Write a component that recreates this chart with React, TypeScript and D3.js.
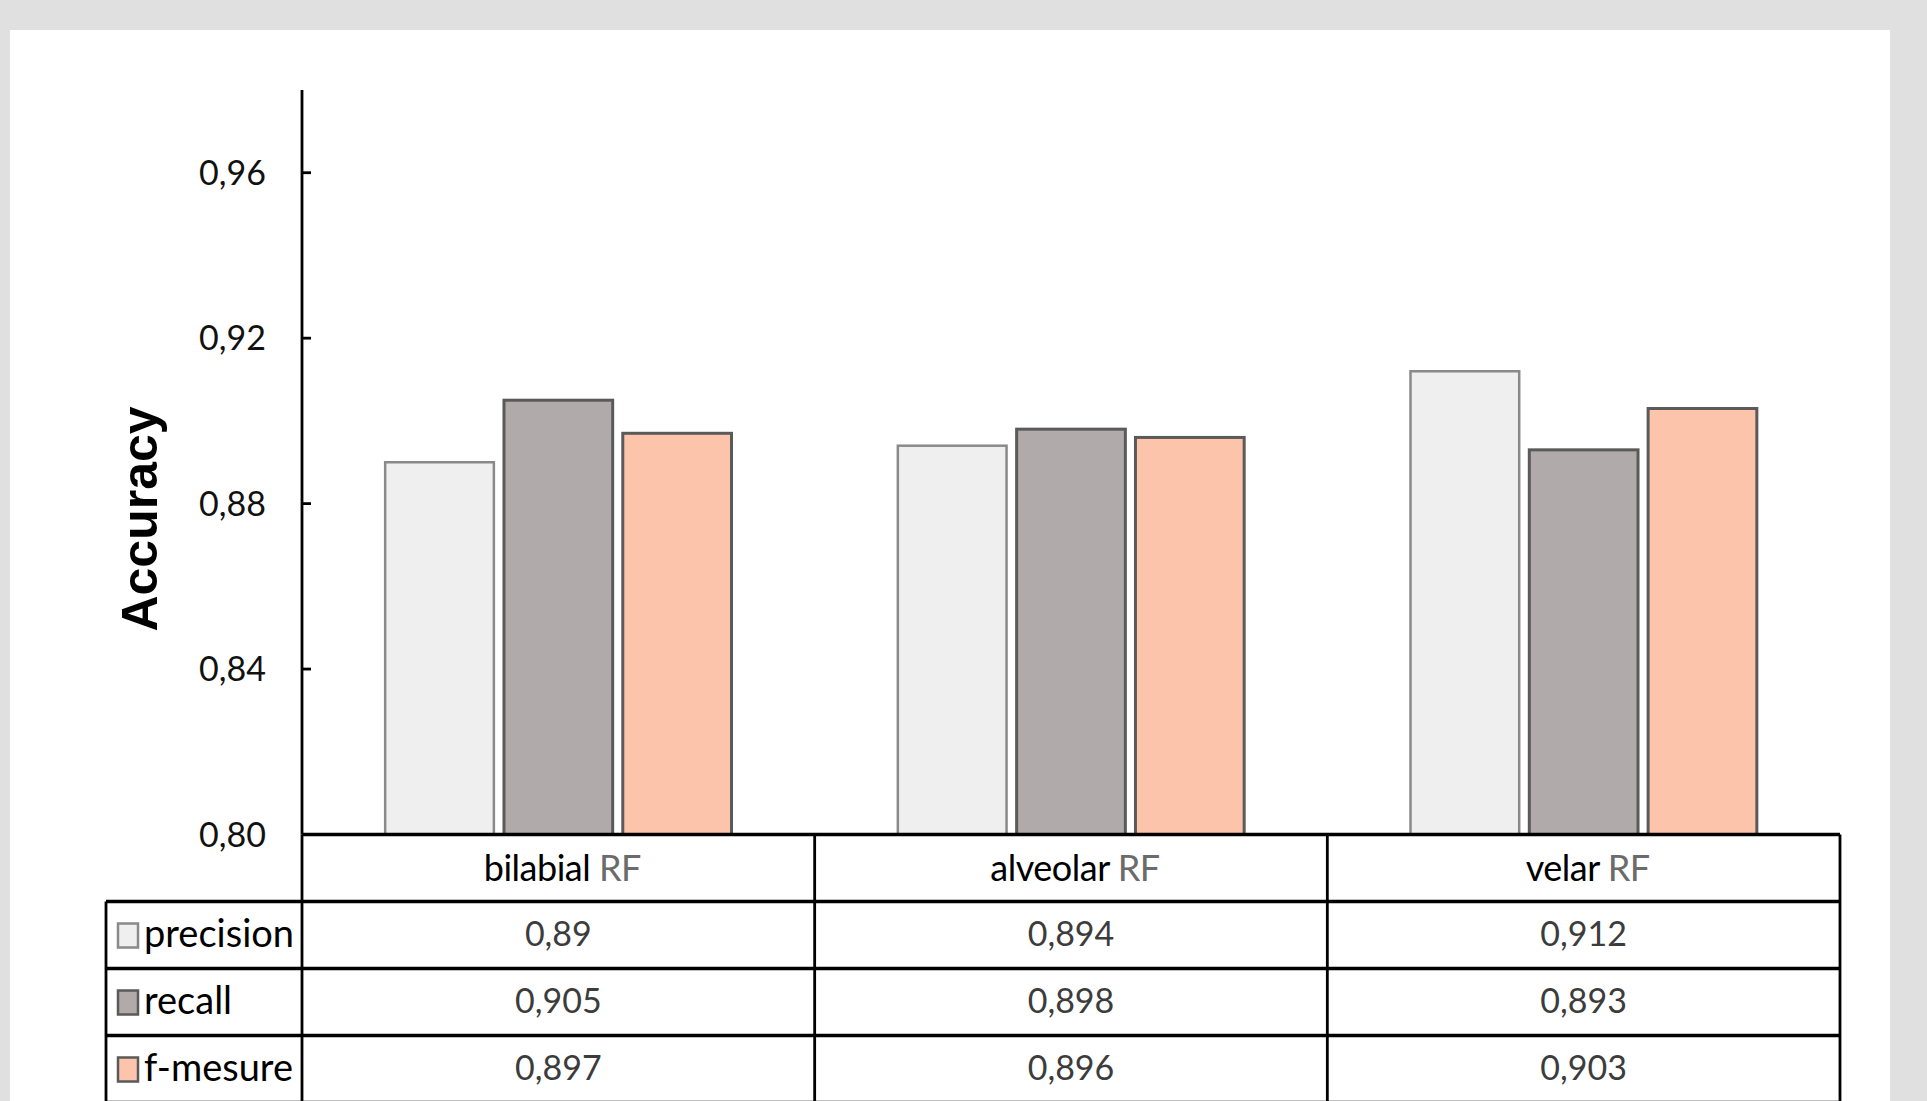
import React from "react";
import * as d3 from "d3";

const categories = ["bilabial", "alveolar", "velar"];
const seriesNames = ["precision", "recall", "f-mesure"];
const precision = [0.89, 0.894, 0.912];
const recall = [0.905, 0.898, 0.893];
const fMesure = [0.897, 0.896, 0.903];
const yTicks = [0.8, 0.84, 0.88, 0.92, 0.96];

const seriesValues = [precision, recall, fMesure];
const fills = ["#efefef", "#b0aaaa", "#fcc5ab"];
const strokes = ["#8a8a8a", "#5a5a5a", "#5a5a5a"];

const W = 1927;
const H = 1101;

const plotLeft = 302;
const plotRight = 1840;
const plotTop = 90;
const plotBottom = 834.5;
const tableLeft = 106;
const rowH = 67;

const numFont = "Lato, 'Open Sans', sans-serif";

const fmt = (v: number) => String(v).replace(".", ",");

export default function App() {
  const y = d3.scaleLinear().domain([0.8, 0.98]).range([plotBottom, plotTop]);
  const x0 = d3
    .scaleBand<string>()
    .domain(categories)
    .range([plotLeft, plotRight])
    .padding(0);
  const x1 = d3
    .scaleBand<string>()
    .domain(seriesNames)
    .range([0, x0.bandwidth()])
    .paddingInner(0.085)
    .paddingOuter(0.7);

  const tickFmt = d3.format(".2f");
  const rowsTop = plotBottom + rowH;

  return (
    <svg
      width={W}
      height={H}
      style={{ position: "absolute", left: 0, top: 0 }}
    >
      <rect x={0} y={0} width={W} height={H} fill="#e0e0e0" />
      <rect x={10} y={30} width={1880} height={H - 30} fill="#ffffff" />

      {/* bars */}
      {categories.map((c, ci) => (
        <g key={c} transform={`translate(${x0(c)},0)`}>
          {seriesNames.map((s, si) => {
            const v = seriesValues[si][ci];
            return (
              <rect
                key={s}
                x={x1(s)}
                y={y(v)}
                width={x1.bandwidth()}
                height={plotBottom - y(v)}
                fill={fills[si]}
                stroke={strokes[si]}
                strokeWidth={si === 0 ? 2.5 : 3}
              />
            );
          })}
        </g>
      ))}

      {/* y axis */}
      <line
        x1={plotLeft}
        x2={plotLeft}
        y1={plotTop}
        y2={plotBottom}
        stroke="#000"
        strokeWidth={2.8}
      />
      {yTicks.map((t) => (
        <g key={t}>
          <line
            x1={plotLeft}
            x2={plotLeft + 9}
            y1={y(t)}
            y2={y(t)}
            stroke="#000"
            strokeWidth={2.8}
          />
          <text
            x={plotLeft - 36}
            y={y(t)}
            dy="0.36em"
            textAnchor="end"
            fontFamily={numFont}
            fontSize={34}
            fill="#111"
          >
            {tickFmt(t).replace(".", ",")}
          </text>
        </g>
      ))}

      <text
        transform={`translate(140,519) rotate(-90)`}
        textAnchor="middle"
        dominantBaseline="central"
        fontFamily="'Liberation Sans', Arial, sans-serif"
        fontWeight="bold"
        fontSize={50}
        fill="#000"
      >
        Accuracy
      </text>

      {/* data table */}
      <g stroke="#000" strokeWidth={3.5}>
        <line x1={plotLeft} x2={plotRight} y1={plotBottom} y2={plotBottom} />
        {[0, 1, 2, 3].map((i) => (
          <line
            key={i}
            x1={tableLeft}
            x2={plotRight}
            y1={rowsTop + i * rowH}
            y2={rowsTop + i * rowH}
          />
        ))}
        <line x1={tableLeft} x2={tableLeft} y1={rowsTop} y2={H + 5} strokeWidth={2.8} />
        <line x1={plotLeft} x2={plotLeft} y1={plotBottom} y2={H + 5} strokeWidth={2.8} />
        {categories.map((c) => (
          <line
            key={c}
            x1={(x0(c) as number) + x0.bandwidth()}
            x2={(x0(c) as number) + x0.bandwidth()}
            y1={plotBottom}
            y2={H + 5}
            strokeWidth={2.8}
          />
        ))}
      </g>

      {categories.map((c) => (
        <text
          key={c}
          x={(x0(c) as number) + x0.bandwidth() / 2 + 4}
          y={plotBottom + 46}
          textAnchor="middle"
          fontFamily={numFont}
          fontSize={36}
          letterSpacing={-0.5}
          fill="#000"
        >
          {c}
          <tspan fill="#6b6b6b"> RF</tspan>
        </text>
      ))}

      {seriesNames.map((s, si) => {
        const top = rowsTop + si * rowH;
        return (
          <g key={s}>
            <rect
              x={118}
              y={top + 22}
              width={20}
              height={24}
              fill={fills[si]}
              stroke={strokes[si]}
              strokeWidth={2.5}
            />
            <text
              x={144}
              y={top + 45}
              fontFamily={numFont}
              fontSize={38}
              fill="#000"
            >
              {s}
            </text>
            {categories.map((c, ci) => (
              <text
                key={c}
                x={(x0(c) as number) + x0.bandwidth() / 2}
                y={top + 44}
                textAnchor="middle"
                fontFamily={numFont}
                fontSize={34}
                fill="#3c3c3c"
              >
                {fmt(seriesValues[si][ci])}
              </text>
            ))}
          </g>
        );
      })}
    </svg>
  );
}
